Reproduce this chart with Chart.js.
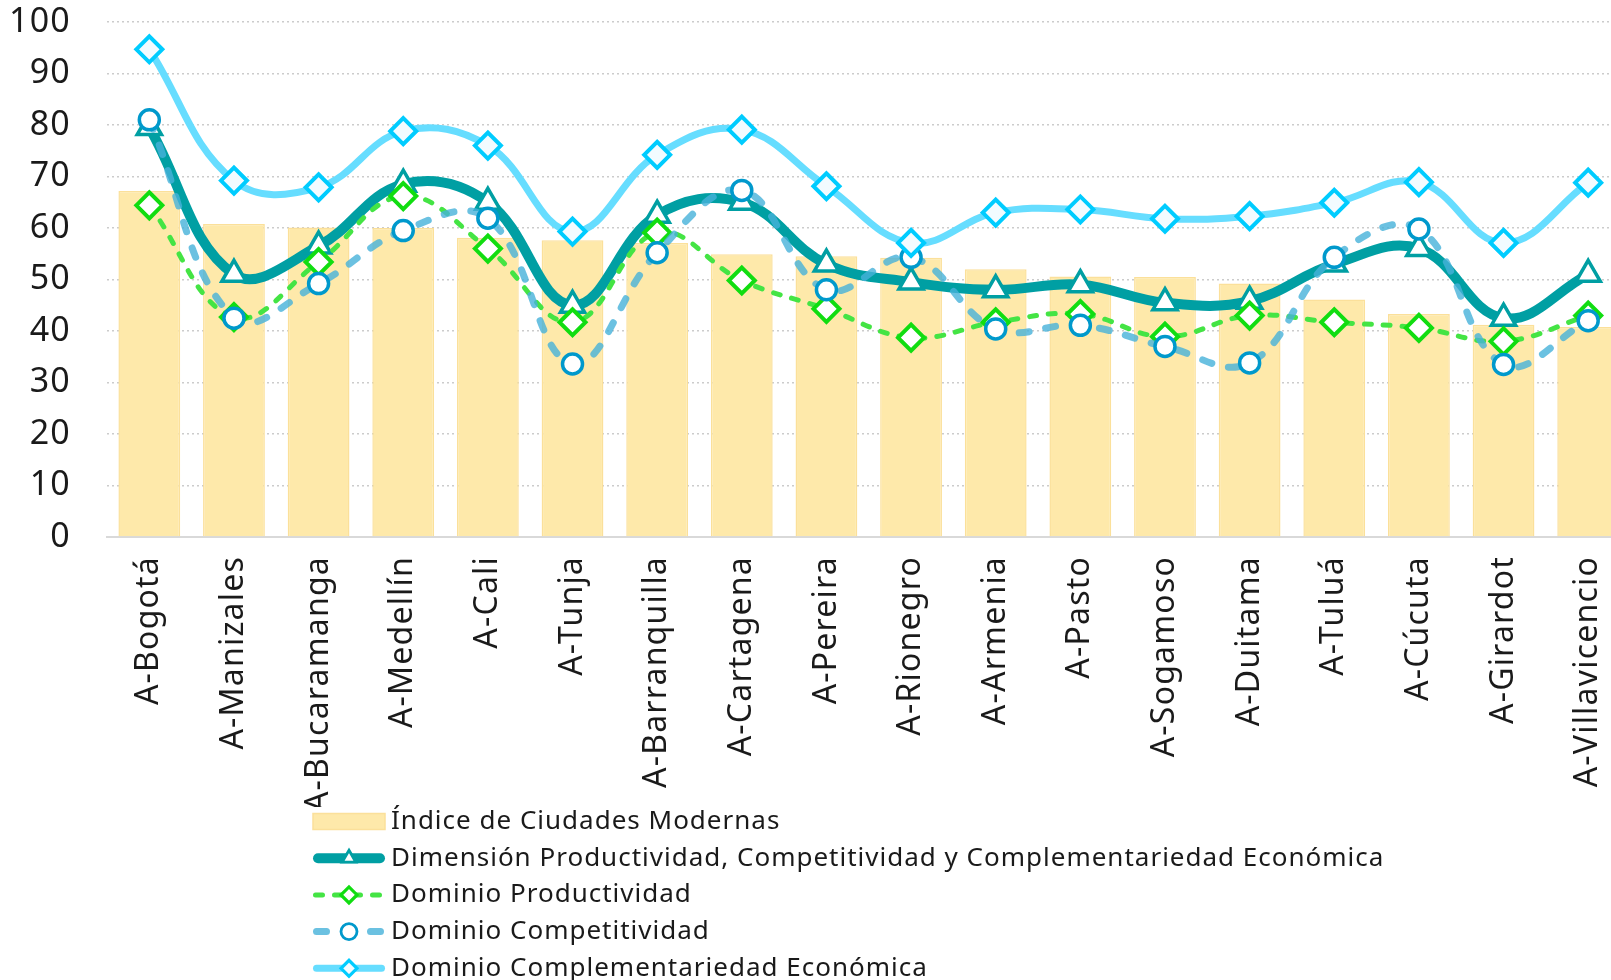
<!DOCTYPE html>
<html>
<head>
<meta charset="utf-8">
<script src="https://cdn.jsdelivr.net/npm/chart.js@4.4.1/dist/chart.umd.min.js"></script>
<style>
  html, body { margin: 0; padding: 0; background: #fff; overflow: hidden; }
  #wrap { position: relative; width: 1648px; height: 980px; }
</style>
</head>
<body>
<div id="wrap"><canvas id="chart"></canvas></div>
<script>
// Categories (cities)
const cities = [
	'A-Bogotá', 'A-Manizales', 'A-Bucaramanga', 'A-Medellín', 'A-Cali', 'A-Tunja',
	'A-Barranquilla', 'A-Cartagena', 'A-Pereira', 'A-Rionegro', 'A-Armenia', 'A-Pasto',
	'A-Sogamoso', 'A-Duitama', 'A-Tuluá', 'A-Cúcuta', 'A-Girardot', 'A-Villavicencio'
];

// Series values
const indiceCiudades = [67.2, 60.8, 60.1, 60.0, 58.1, 57.6, 57.1, 54.9, 54.5, 54.2, 52.0, 50.6, 50.5, 49.2, 46.1, 43.3, 41.2, 40.8];
const dimensionPCC = [79.5, 51.0, 56.5, 68.5, 65.0, 45.0, 62.5, 65.0, 53.0, 49.5, 48.0, 49.0, 45.5, 45.8, 53.0, 56.0, 42.5, 51.0];
const domProductividad = [64.4, 42.7, 53.4, 66.2, 56.0, 41.7, 59.1, 49.8, 44.3, 38.7, 41.7, 43.3, 38.9, 43.0, 41.7, 40.6, 38.0, 43.0];
const domCompetitividad = [81.0, 42.5, 49.2, 59.5, 61.9, 33.6, 55.2, 67.3, 48.0, 54.3, 40.4, 41.1, 37.0, 33.8, 54.3, 59.8, 33.5, 42.0];
const domComplementariedad = [94.7, 69.2, 67.9, 78.8, 76.0, 59.3, 74.2, 79.1, 68.1, 57.1, 63.0, 63.6, 61.8, 62.3, 64.9, 68.9, 57.1, 68.8];

const yTicks = [0, 10, 20, 30, 40, 50, 60, 70, 80, 90, 100];

const FONT = "'Noto Sans', 'DejaVu Sans', sans-serif";
const TEXT = '#1a1a1a';

// a bit of tracking on all canvas text (labels are measured with it too)
const tracking = {
	id: 'tracking',
	beforeUpdate(chart) { chart.ctx.letterSpacing = '1.2px'; },
	beforeDraw(chart) { chart.ctx.letterSpacing = '1.2px'; }
};

// legend drawn one entry per row under the axis labels
const rowLegend = {
	id: 'rowLegend',
	afterDraw(chart, args, opts) {
		const ctx = chart.ctx;
		const top = chart.chartArea.bottom + opts.offsetTop;
		chart.data.datasets.forEach((ds, i) => {
			const y = top + i * opts.rowGap;
			const x0 = opts.left;
			const x1 = opts.left + opts.boxWidth;
			const xm = (x0 + x1) / 2;
			ctx.save();
			if (ds.type === 'bar') {
				ctx.fillStyle = ds.backgroundColor;
				ctx.strokeStyle = ds.borderColor;
				ctx.lineWidth = 1.5;
				ctx.fillRect(x0, y - 8, opts.boxWidth, 16);
				ctx.strokeRect(x0, y - 8, opts.boxWidth, 16);
			} else {
				ctx.strokeStyle = ds.borderColor;
				ctx.lineWidth = ds.borderWidth;
				ctx.lineCap = ds.borderCapStyle || 'butt';
				ctx.setLineDash(ds.borderDash || []);
				ctx.beginPath();
				ctx.moveTo(x0 + ctx.lineWidth / 2, y);
				ctx.lineTo(x1 - ctx.lineWidth / 2, y);
				ctx.stroke();
				ctx.setLineDash([]);
				ctx.fillStyle = ds.pointBackgroundColor;
				ctx.strokeStyle = ds.pointBorderColor;
				ctx.lineWidth = ds.pointBorderWidth * 0.8;
				Chart.helpers.drawPoint(ctx, {
					pointStyle: ds.pointStyle,
					radius: opts.markerRadius,
					rotation: 0,
					borderWidth: ctx.lineWidth
				}, xm, y);
			}
			ctx.fillStyle = TEXT;
			ctx.font = `${opts.fontSize}px ${FONT}`;
			ctx.letterSpacing = opts.letterSpacing;
			ctx.textBaseline = 'middle';
			ctx.textAlign = 'left';
			ctx.fillText(ds.label, x1 + opts.textGap, y);
			ctx.restore();
		});
	}
};

const ctx = document.getElementById('chart');
const chart = new Chart(ctx, {
	type: 'bar',
	data: {
		labels: cities,
		datasets: [
			{
				type: 'bar',
				label: 'Índice de Ciudades Modernas',
				data: indiceCiudades,
				backgroundColor: '#FEE9AA',
				borderColor: '#FBE09A',
				borderWidth: 1.5,
				barPercentage: 0.73,
				categoryPercentage: 1,
				order: 5
			},
			{
				type: 'line',
				label: 'Dimensión Productividad, Competitividad y Complementariedad Económica',
				data: dimensionPCC,
				borderColor: '#009FA3',
				borderWidth: 10,
				borderCapStyle: 'round',
				tension: 0.4,
				pointStyle: 'triangle',
				pointRadius: 14,
				pointBorderWidth: 3.5,
				pointBackgroundColor: '#ffffff',
				pointBorderColor: '#009FA3',
				order: 4
			},
			{
				type: 'line',
				label: 'Dominio Productividad',
				data: domProductividad,
				borderColor: '#44E444',
				borderWidth: 5,
				borderDash: [7, 12],
				borderCapStyle: 'round',
				tension: 0.4,
				pointStyle: 'rectRot',
				pointRadius: 13,
				pointBorderWidth: 4,
				pointBackgroundColor: '#ffffff',
				pointBorderColor: '#11DD11',
				order: 3
			},
			{
				type: 'line',
				label: 'Dominio Competitividad',
				data: domCompetitividad,
				borderColor: 'rgba(70,178,218,0.8)',
				borderWidth: 7,
				borderDash: [10, 17],
				borderCapStyle: 'round',
				tension: 0.4,
				pointStyle: 'circle',
				pointRadius: 10,
				pointBorderWidth: 3.5,
				pointBackgroundColor: '#ffffff',
				pointBorderColor: '#0099CC',
				order: 2
			},
			{
				type: 'line',
				label: 'Dominio Complementariedad Económica',
				data: domComplementariedad,
				borderColor: '#66DDFF',
				borderWidth: 7,
				borderCapStyle: 'round',
				tension: 0.4,
				pointStyle: 'rectRot',
				pointRadius: 13,
				pointBorderWidth: 4,
				pointBackgroundColor: '#F2FBFF',
				pointBorderColor: '#00CCFF',
				order: 1
			}
		]
	},
	options: {
		responsive: true,
		maintainAspectRatio: false,
		animation: false,
		layout: { padding: { top: 22, right: 2, bottom: 173, left: 0 } },
		plugins: {
			legend: { display: false },
			tooltip: { enabled: false },
			rowLegend: {
				left: 313,
				boxWidth: 72,
				textGap: 6,
				offsetTop: 284.5,
				rowGap: 36.7,
				fontSize: 26,
				letterSpacing: '1px',
				markerRadius: 8
			}
		},
		scales: {
			x: {
				offset: true,
				grid: { display: false },
				border: { color: '#d9d9d9', width: 2 },
				ticks: {
					color: TEXT,
					font: { family: FONT, size: 32 },
					minRotation: 90,
					maxRotation: 90,
					autoSkip: false,
					padding: 11
				},
				afterFit(scale) {
					scale.height = 270;
					scale.paddingLeft = 0;
					scale.paddingRight = 0;
				}
			},
			y: {
				min: 0,
				max: 100,
				afterBuildTicks(scale) {
					scale.ticks = yTicks.map(v => ({ value: v }));
				},
				grid: { color: '#cccccc', lineWidth: 1.5, drawTicks: false },
				border: { display: false, dash: [2, 3] },
				ticks: {
					color: TEXT,
					font: { family: FONT, size: 34 },
					padding: 36
				},
				afterFit(scale) {
					scale.width = 107;
					scale.paddingTop = 0;
					scale.paddingBottom = 0;
				}
			}
		}
	},
	plugins: [tracking, rowLegend]
});
</script>
</body>
</html>
